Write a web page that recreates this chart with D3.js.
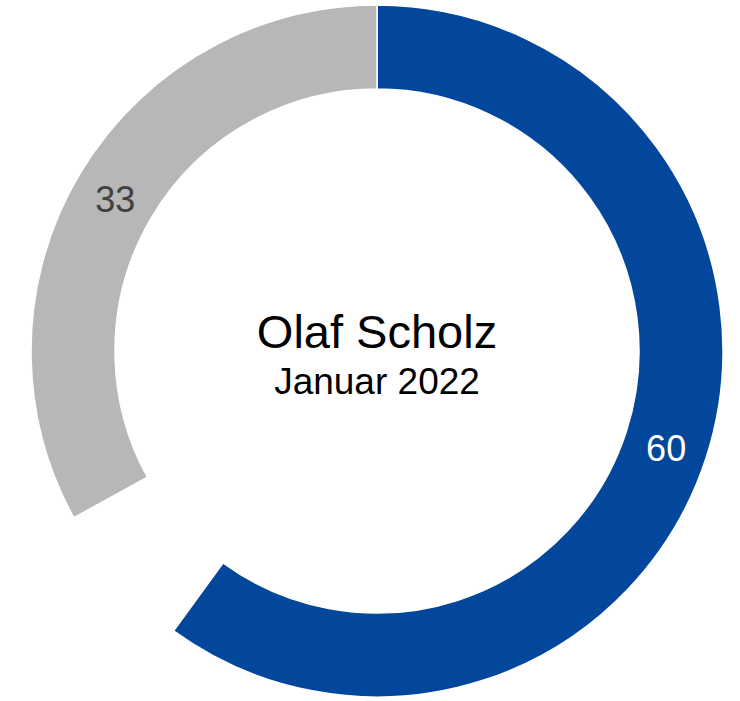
<!DOCTYPE html>
<html>
<head>
<meta charset="utf-8">
<script src="https://cdn.jsdelivr.net/npm/d3@7"></script>
<style>
  body { margin: 0; background: #fff; }
  svg { display: block; font-family: "Liberation Sans", Arial, sans-serif; }
</style>
</head>
<body>
<div id="chart"></div>
<script>
// Zustimmung Olaf Scholz, Januar 2022
const labels = ['zufrieden', 'weiß nicht', 'unzufrieden'];
const values = [60, 7, 33];
const colors = ['#02479b', 'none', '#b7b7b7'];
const labelColors = ['#ffffff', 'none', '#404040'];
const showLabel = [true, false, true];

const width = 740;
const height = 701;
const cx = 377;
const cy = 351;
const outer = 346;
const inner = 262;

const svg = d3.select('#chart').append('svg')
  .attr('width', width)
  .attr('height', height);

const g = svg.append('g').attr('transform', `translate(${cx},${cy})`);

const pie = d3.pie().sort(null).value((d) => d.value);
const arc = d3.arc().innerRadius(inner).outerRadius(outer);

const data = pie(labels.map((l, i) => ({ label: l, value: values[i], i })));

g.selectAll('path')
  .data(data)
  .join('path')
  .attr('d', arc)
  .attr('fill', (d) => colors[d.data.i])
  .attr('stroke', (d) => (colors[d.data.i] === 'none' ? 'none' : '#fff'))
  .attr('stroke-width', 1.5);

g.selectAll('text.val')
  .data(data.filter((d) => showLabel[d.data.i]))
  .join('text')
  .attr('class', 'val')
  .attr('transform', (d) => `translate(${arc.centroid(d)})`)
  .attr('text-anchor', 'middle')
  .attr('dy', '0.44em')
  .attr('font-size', 36)
  .attr('fill', (d) => labelColors[d.data.i])
  .text((d) => d.data.value);

g.append('text')
  .attr('text-anchor', 'middle')
  .attr('y', -3)
  .attr('font-size', 47)
  .attr('fill', '#000')
  .text('Olaf Scholz');

g.append('text')
  .attr('text-anchor', 'middle')
  .attr('y', 43)
  .attr('font-size', 37)
  .attr('fill', '#000')
  .text('Januar 2022');
</script>
</body>
</html>
